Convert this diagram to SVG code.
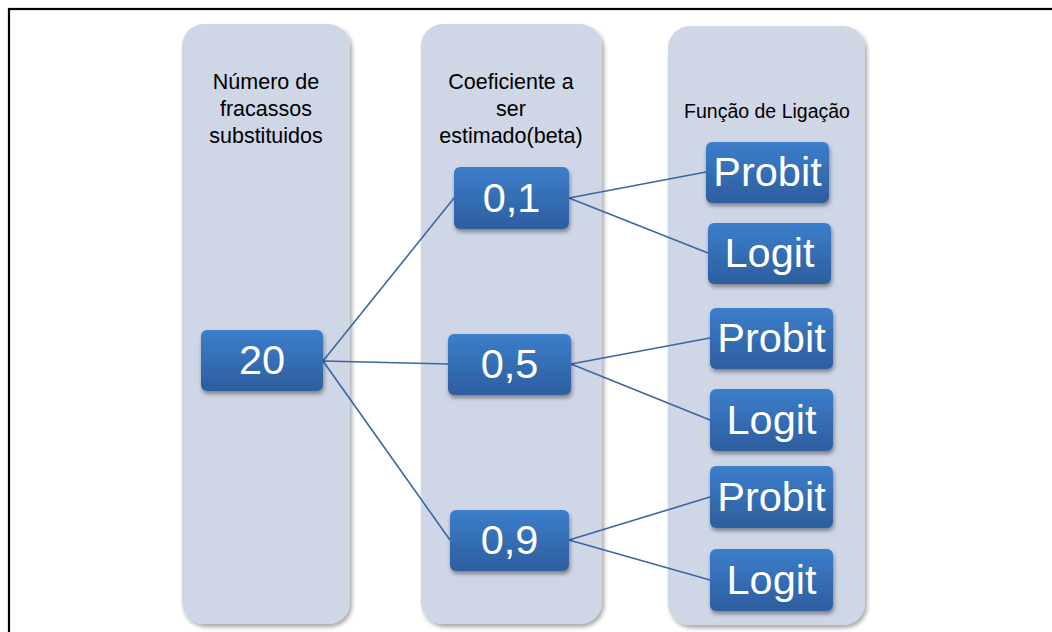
<svg xmlns="http://www.w3.org/2000/svg" width="1052" height="632" viewBox="0 0 1052 632">
  <defs>
    <linearGradient id="boxFill" x1="0" y1="0" x2="0" y2="1">
      <stop offset="0" stop-color="#3c7ecb"/>
      <stop offset="1" stop-color="#2d5e9e"/>
    </linearGradient>
    <filter id="colShadow" x="-10%" y="-5%" width="125%" height="115%">
      <feDropShadow dx="2" dy="3" stdDeviation="2" flood-color="#000" flood-opacity="0.35"/>
    </filter>
    <filter id="boxShadow" x="-10%" y="-10%" width="125%" height="140%">
      <feDropShadow dx="1" dy="3" stdDeviation="2" flood-color="#000" flood-opacity="0.4"/>
    </filter>
  </defs>
  <style>
    .col { fill: #cfd6e6; filter: url(#colShadow); }
    .colText { font-family: "Liberation Sans", Arial, sans-serif; font-size: 21.5px; fill: #000; text-anchor: middle; }
    .box rect { fill: url(#boxFill); filter: url(#boxShadow); }
    .box text { font-family: "Liberation Sans", Arial, sans-serif; font-size: 41.5px; fill: #fff; text-anchor: middle; }
    .link { stroke: #3a67a3; stroke-width: 1.6; fill: none; }
  </style>

  <rect x="0" y="0" width="1052" height="632" fill="#fff"/>
  <!-- outer frame (runs past the right and bottom edges) -->
  <rect x="9" y="9" width="1080" height="660" fill="none" stroke="#000" stroke-width="2.2"/>

  <!-- column backgrounds -->
  <g id="col-fracassos">
    <rect class="col" x="182" y="24" width="168" height="600" rx="22"/>
    <text class="colText" x="266" y="89">Número de</text>
    <text class="colText" x="266" y="116">fracassos</text>
    <text class="colText" x="266" y="143">substituidos</text>
  </g>
  <g id="col-coeficiente">
    <rect class="col" x="421" y="24" width="181" height="600" rx="22"/>
    <text class="colText" x="511" y="89">Coeficiente a</text>
    <text class="colText" x="511" y="116">ser</text>
    <text class="colText" x="511" y="143">estimado(beta)</text>
  </g>
  <g id="col-ligacao">
    <rect class="col" x="668" y="26" width="197" height="599" rx="22"/>
    <text class="colText" x="767" y="118" style="font-size:19.5px">Função de Ligação</text>
  </g>

  <!-- connectors -->
  <g id="connectors">
    <line class="link" x1="323" y1="361" x2="454" y2="198"/>
    <line class="link" x1="323" y1="361" x2="448" y2="364"/>
    <line class="link" x1="323" y1="361" x2="450" y2="540"/>
    <line class="link" x1="569" y1="198" x2="706" y2="172"/>
    <line class="link" x1="569" y1="198" x2="708" y2="253"/>
    <line class="link" x1="571" y1="364" x2="710" y2="338"/>
    <line class="link" x1="571" y1="364" x2="710" y2="420"/>
    <line class="link" x1="569" y1="540" x2="710" y2="497"/>
    <line class="link" x1="569" y1="540" x2="710" y2="580"/>
  </g>

  <!-- nodes -->
  <g id="n20" class="box">
    <rect x="201" y="330" width="122" height="61" rx="6"/>
    <text x="262" y="374">20</text>
  </g>
  <g id="b01" class="box">
    <rect x="454" y="167" width="115" height="62" rx="6"/>
    <text x="511.5" y="212">0,1</text>
  </g>
  <g id="b05" class="box">
    <rect x="448" y="334" width="123" height="61" rx="6"/>
    <text x="509.5" y="378">0,5</text>
  </g>
  <g id="b09" class="box">
    <rect x="450" y="510" width="119" height="61" rx="6"/>
    <text x="509.5" y="554">0,9</text>
  </g>
  <g id="probit1" class="box">
    <rect x="706" y="142" width="123" height="61" rx="6"/>
    <text x="767.5" y="186">Probit</text>
  </g>
  <g id="logit1" class="box">
    <rect x="708" y="223" width="123" height="61" rx="6"/>
    <text x="769.5" y="267">Logit</text>
  </g>
  <g id="probit2" class="box">
    <rect x="710" y="308" width="123" height="61" rx="6"/>
    <text x="771.5" y="352">Probit</text>
  </g>
  <g id="logit2" class="box">
    <rect x="710" y="389" width="123" height="62" rx="6"/>
    <text x="771.5" y="434">Logit</text>
  </g>
  <g id="probit3" class="box">
    <rect x="710" y="466" width="123" height="62" rx="6"/>
    <text x="771.5" y="511">Probit</text>
  </g>
  <g id="logit3" class="box">
    <rect x="710" y="549" width="123" height="62" rx="6"/>
    <text x="771.5" y="594">Logit</text>
  </g>
</svg>
